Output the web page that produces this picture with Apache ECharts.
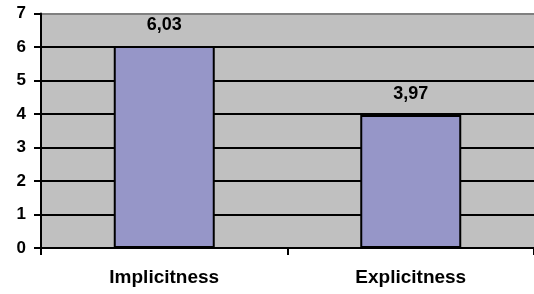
<!DOCTYPE html>
<html>
<head>
<meta charset="utf-8">
<script src="https://cdn.jsdelivr.net/npm/echarts@6/dist/echarts.min.js"></script>
<style>
  html, body { margin: 0; padding: 0; background: #fff; }
  #chart { width: 534px; height: 294px; }
</style>
</head>
<body>
<div id="chart"></div>
<script>
// categories and values
var categories = ['Implicitness', 'Explicitness'];
var values = [6.03, 3.97];
var yTicks = [0, 1, 2, 3, 4, 5, 6, 7];

var chart = echarts.init(document.getElementById('chart'));
chart.setOption({
  animation: false,
  grid: {
    left: 41,
    width: 498,
    top: 13.5,
    bottom: 46,
    show: true,
    backgroundColor: '#C0C0C0',
    borderWidth: 0
  },
  xAxis: {
    type: 'category',
    data: categories,
    axisLine: { lineStyle: { color: '#000', width: 2 } },
    axisTick: { show: true, length: 7, lineStyle: { color: '#000', width: 2 } },
    axisLabel: {
      margin: 20,
      color: '#000',
      fontFamily: 'Liberation Sans, Arial, sans-serif',
      fontWeight: 'bold',
      fontSize: 19
    },
    splitLine: { show: false }
  },
  yAxis: {
    type: 'value',
    min: yTicks[0],
    max: yTicks[yTicks.length - 1],
    interval: 1,
    axisLine: { show: true, lineStyle: { color: '#000', width: 2 } },
    axisTick: { show: true, length: 7, lineStyle: { color: '#000', width: 2 } },
    axisLabel: {
      margin: 15,
      color: '#000',
      fontFamily: 'Liberation Sans, Arial, sans-serif',
      fontWeight: 'bold',
      fontSize: 17
    },
    splitLine: {
      show: true,
      lineStyle: {
        // top line (7) is gray, the rest black
        color: ['#000', '#000', '#000', '#000', '#000', '#000', '#000', '#808080'],
        width: 2
      }
    }
  },
  series: [{
    type: 'bar',
    data: values,
    barWidth: 101,
    itemStyle: {
      color: '#9696C8',
      borderColor: '#000',
      borderWidth: 2
    },
    label: {
      show: true,
      position: 'top',
      distance: 12,
      color: '#000',
      fontFamily: 'Liberation Sans, Arial, sans-serif',
      fontWeight: 'bold',
      fontSize: 18,
      formatter: function (p) { return p.value.toFixed(2).replace('.', ','); }
    }
  }]
});
</script>
</body>
</html>
